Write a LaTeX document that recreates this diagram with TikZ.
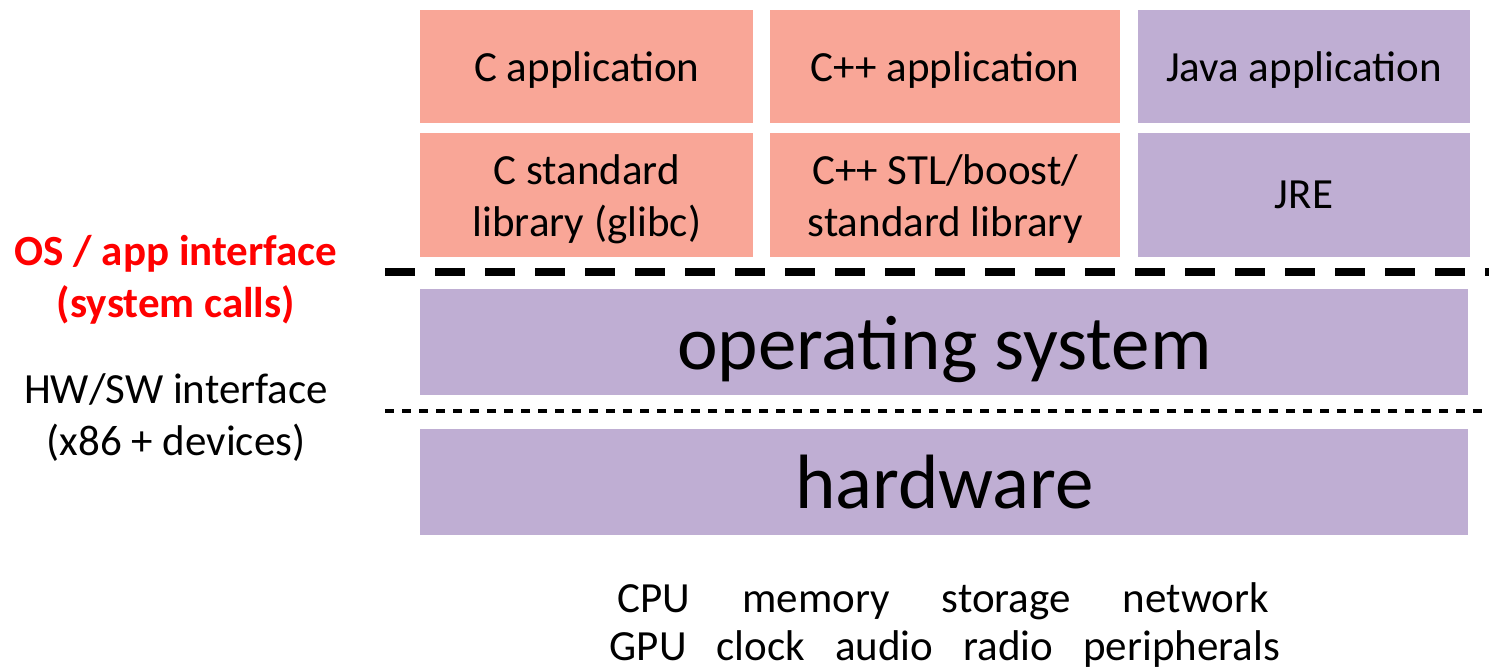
\documentclass[tikz,border=0pt]{standalone}
\usepackage{fontspec}
\setmainfont{Carlito}
\usetikzlibrary{positioning}
\definecolor{salmon}{HTML}{F9A697}
\definecolor{lilac}{HTML}{BFAED3}
\tikzset{
	layer/.style={fill=#1, inner sep=0pt, text depth=0pt, align=center, font=\fontsize{21.5}{26}\selectfont},
	biglayer/.style={layer=lilac, minimum width=524pt, minimum height=53pt, font=\fontsize{38.5}{44}\selectfont},
	note/.style={align=center, font=\fontsize{21.5}{26}\selectfont},
}
\begin{document}
\begin{tikzpicture}[x=0.5pt, y=-0.5pt]
	\useasboundingbox[fill=white] (0,0) rectangle (1489,669);
	% applications and their libraries
	\node[layer=salmon, minimum width=166.5pt, minimum height=56.5pt, anchor=north west] (capp) at (420,10) {C application};
	\node[layer=salmon, minimum width=175pt, minimum height=56.5pt, right=8pt of capp] (cppapp) {C++ application};
	\node[layer=lilac, minimum width=166pt, minimum height=56.5pt, right=8.5pt of cppapp] (javaapp) {Java application};
	\node[layer=salmon, minimum width=166.5pt, minimum height=62pt, below=4.5pt of capp] (clib) {C standard\\library (glibc)};
	\node[layer=salmon, minimum width=175pt, minimum height=62pt, below=4.5pt of cppapp] (cpplib) {C++ STL/boost/\\standard library};
	\node[layer=lilac, minimum width=166pt, minimum height=62pt, below=4.5pt of javaapp] (jre) {JRE};
	% kernel and machine
	\node[biglayer, anchor=north west] (os) at (420,289) {operating system};
	\node[biglayer, below=16.5pt of os] (hw) {hardware};
	% interfaces
	\coordinate (sysL) at (385,272);
	\coordinate (sysR) at (1489,272);
	\coordinate (hwL) at (385,411);
	\coordinate (hwR) at (1489,411);
	\draw[line width=4pt, dash pattern=on 15pt off 10pt] (sysL) -- (sysR);
	\draw[line width=2.2pt, dash pattern=on 4.5pt off 4pt] (hwL) -- (hwR);
	\node[note, text=red, font=\fontsize{21.5}{26}\selectfont\bfseries] (syscalls) at (176,280) {OS / app interface\\(system calls)};
	\node[note] (hwsw) at (176,418) {HW/SW interface\\(x86 + devices)};
	% devices
	\node[note] (devsA) at (943,601) {CPU\hspace{26pt}memory\hspace{26pt}storage\hspace{26pt}network};
	\node[note] (devsB) at (945,649) {GPU\hspace{15pt}clock\hspace{15pt}audio\hspace{15pt}radio\hspace{15pt}peripherals};
\end{tikzpicture}
\end{document}
